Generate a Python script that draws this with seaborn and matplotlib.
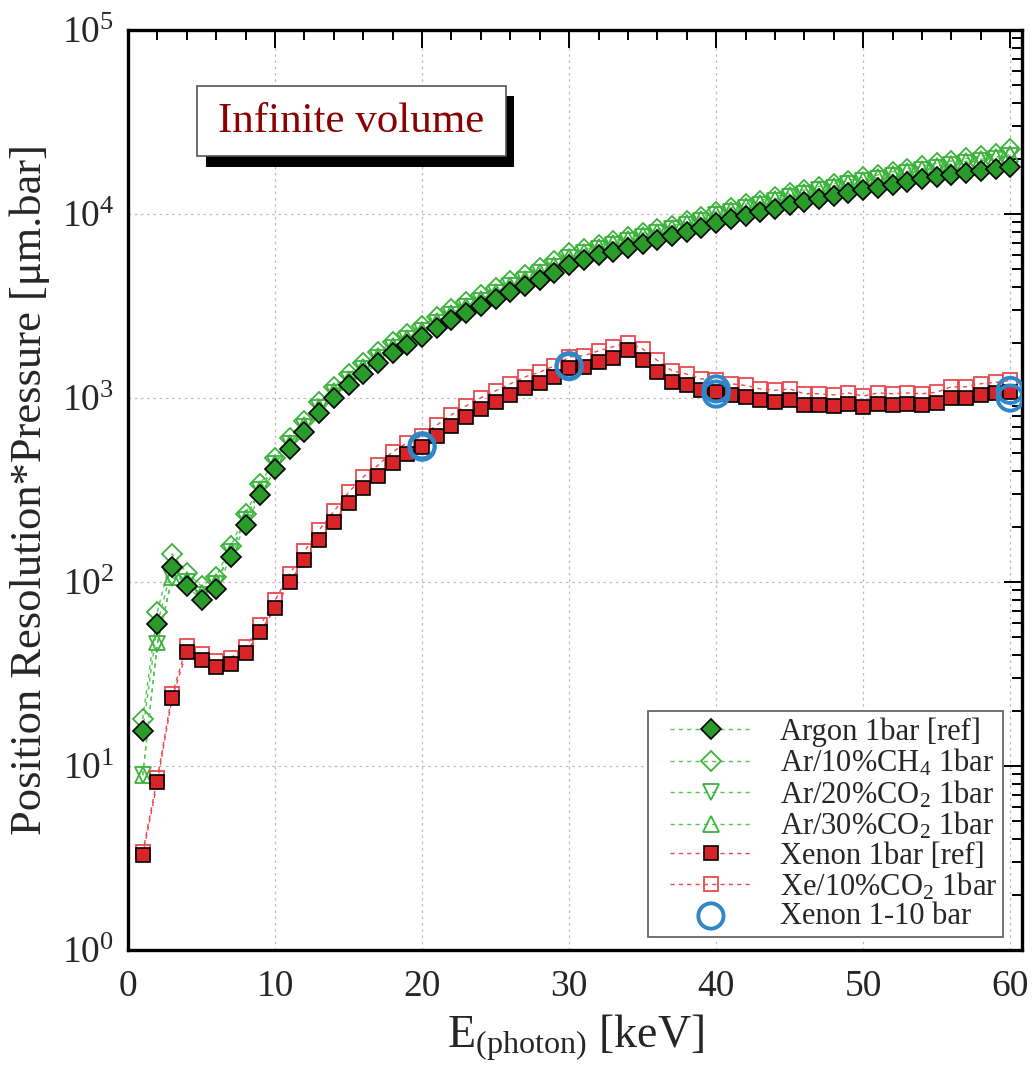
import numpy as np
import pandas as pd
import matplotlib
matplotlib.use("Agg")
import matplotlib.pyplot as plt
from matplotlib.patches import Rectangle
from matplotlib.lines import Line2D
from matplotlib.collections import PathCollection
from matplotlib.legend_handler import HandlerLine2D, HandlerPathCollection
from matplotlib.ticker import LogLocator, MultipleLocator, LogFormatterMathtext, NullFormatter
import seaborn as sns

# ---------------- data ----------------
energy = list(range(1, 61))

argon_ref = [15.5, 59, 121, 95, 80, 92, 137, 205, 297, 411,
             528, 653, 828, 1000, 1175, 1350, 1550, 1750, 1950, 2150,
             2400, 2650, 2900, 3150, 3450, 3750, 4050, 4400, 4800, 5300,
             5650, 5950, 6250, 6550, 6900, 7200, 7550, 7950, 8400, 8950,
             9350, 9800, 10200, 10700, 11200, 11600, 12100, 12500, 13000, 13500,
             13900, 14400, 14900, 15400, 15900, 16300, 16800, 17200, 17600, 18100]

ar_ch4 = [18, 69, 142, 112, 95, 107, 157, 235, 340, 470,
          605, 750, 950, 1150, 1350, 1550, 1780, 2010, 2240, 2470,
          2760, 3050, 3340, 3630, 3970, 4320, 4670, 5070, 5540, 6120,
          6420, 6760, 7120, 7480, 7880, 8240, 8650, 9120, 9650, 10300,
          10780, 11300, 11800, 12400, 13000, 13500, 14100, 14600, 15200, 15800,
          16300, 16950, 17600, 18200, 18850, 19400, 20050, 20600, 21200, 22500]

ar_co2_20 = [8.9, 46, 105, 100, 85, 98, 145, 218, 315, 437,
             560, 695, 880, 1065, 1250, 1440, 1655, 1870, 2085, 2300,
             2570, 2840, 3110, 3380, 3710, 4040, 4360, 4750, 5180, 5740,
             6120, 6450, 6790, 7130, 7520, 7860, 8260, 8710, 9210, 9820,
             10270, 10780, 11240, 11810, 12380, 12840, 13420, 13890, 14470, 15050,
             15510, 16100, 16690, 17280, 17880, 18370, 18970, 19470, 19960, 20700]

ar_co2_30 = [8.9, 47, 107, 102, 87, 100, 148, 222, 322, 446,
             571, 709, 898, 1086, 1275, 1469, 1688, 1907, 2127, 2346,
             2621, 2897, 3172, 3448, 3784, 4121, 4447, 4845, 5284, 5855,
             6242, 6579, 6926, 7273, 7670, 8017, 8425, 8884, 9394, 10016,
             10475, 10996, 11465, 12046, 12628, 13097, 13688, 14168, 14759, 15351,
             15820, 16422, 17024, 17626, 18238, 18737, 19349, 19859, 20359, 21100]

xenon_ref = [3.28, 8.2, 23.4, 41.8, 37.7, 34.7, 36, 41.1, 53.7, 72,
             100, 131, 170, 213, 269, 324, 375, 443, 497, 542,
             620, 705, 789, 872, 951, 1038, 1133, 1203, 1300, 1455,
             1477, 1570, 1650, 1820, 1610, 1390, 1222, 1175, 1105, 1082,
             1038, 1017, 975, 955, 975, 916, 916, 904, 927, 890,
             927, 916, 927, 916, 935, 1000, 1000, 1038, 1058, 1082]

xe_co2 = [3.4, 8.6, 24.5, 44.7, 40.5, 37.3, 38.7, 44.3, 58.5, 79.5,
          111, 147, 192, 242, 307, 373, 431, 510, 572, 623,
          713, 811, 907, 1003, 1094, 1194, 1303, 1383, 1495, 1673,
          1700, 1805, 1900, 2000, 1850, 1600, 1405, 1350, 1270, 1245,
          1195, 1170, 1120, 1100, 1120, 1055, 1055, 1040, 1065, 1025,
          1065, 1055, 1065, 1055, 1075, 1150, 1150, 1195, 1215, 1245]

xe_multi_energy = [20, 20, 30, 30, 40, 40, 60, 60]
xe_multi_value = [540, 550, 1480, 1500, 1120, 1050, 1100, 1000]

labels = ["Argon 1bar [ref]", r"Ar/10%CH$_4$ 1bar", r"Ar/20%CO$_2$ 1bar",
          r"Ar/30%CO$_2$ 1bar", "Xenon 1bar [ref]", r"Xe/10%CO$_2$ 1bar",
          "Xenon 1-10 bar"]

# ---------------- style ----------------
sns.set_theme(style="white")
plt.rcParams["font.family"] = ["Liberation Serif", "DejaVu Serif"]
plt.rcParams["mathtext.fontset"] = "custom"
plt.rcParams["mathtext.rm"] = "Liberation Serif"
plt.rcParams["mathtext.it"] = "Liberation Serif:italic"
plt.rcParams["mathtext.bf"] = "Liberation Serif:bold"

fig = plt.figure(figsize=(10.33, 10.69), dpi=100)
ax = fig.add_axes([128 / 1033, 119 / 1069, 894 / 1033, 920 / 1069])

GREEN_DARK = "#2a9a2a"
GREEN = "#3bb33b"
GREEN_LINE = "#55c455"
RED = "#d82428"
RED_LIGHT = "#e84a4e"
BLUE = "#2f86c8"
dash = (0, (3, 3))

df = pd.DataFrame({"E": energy, "argon": argon_ref, "ch4": ar_ch4,
                   "co2_20": ar_co2_20, "co2_30": ar_co2_30,
                   "xenon": xenon_ref, "xeco2": xe_co2})

common = dict(ax=ax, x="E", data=df, linewidth=1.0, linestyle=dash, estimator=None)

sns.lineplot(y="ch4", color=GREEN_LINE, marker="D", markersize=10,
             markerfacecolor="none", markeredgecolor=GREEN, markeredgewidth=1.3,
             label=labels[1], zorder=3, **common)
sns.lineplot(y="co2_20", color=GREEN_LINE, marker="v", markersize=11,
             markerfacecolor="none", markeredgecolor=GREEN, markeredgewidth=1.3,
             label=labels[2], zorder=3, **common)
sns.lineplot(y="co2_30", color=GREEN_LINE, marker="^", markersize=11,
             markerfacecolor="none", markeredgecolor=GREEN, markeredgewidth=1.3,
             label=labels[3], zorder=3, **common)
sns.lineplot(y="argon", color=GREEN_LINE, marker="D", markersize=10,
             markerfacecolor=GREEN_DARK, markeredgecolor="black", markeredgewidth=1.2,
             label=labels[0], zorder=4, **common)
sns.lineplot(y="xeco2", color=RED_LIGHT, marker="s", markersize=10,
             markerfacecolor="none", markeredgecolor=RED_LIGHT, markeredgewidth=1.3,
             label=labels[5], zorder=3, **common)
sns.lineplot(y="xenon", color=RED_LIGHT, marker="s", markersize=10,
             markerfacecolor=RED, markeredgecolor="black", markeredgewidth=1.2,
             label=labels[4], zorder=4, **common)
sns.scatterplot(x=xe_multi_energy, y=xe_multi_value, ax=ax, marker="o", s=330,
                facecolors="none", edgecolors=BLUE, linewidths=2.8,
                label=labels[6], zorder=5)

ax.set_yscale("log")
ax.set_xlim(0, 60.8)
ax.set_ylim(1, 1e5)

# ticks
ax.xaxis.set_major_locator(MultipleLocator(10))
ax.xaxis.set_minor_locator(MultipleLocator(2))
ax.yaxis.set_major_locator(LogLocator(base=10, numticks=10))
ax.yaxis.set_minor_locator(LogLocator(base=10, subs=np.arange(2, 10), numticks=100))
ax.yaxis.set_major_formatter(LogFormatterMathtext())
ax.yaxis.set_minor_formatter(NullFormatter())
ax.tick_params(which="both", direction="in", top=True, right=True,
               labelsize=27, width=1.4, color="black")
ax.tick_params(which="major", length=13)
ax.tick_params(axis="y", which="major", pad=10)
ax.tick_params(axis="x", which="major", pad=14)
ax.tick_params(which="minor", length=7)
for sp in ax.spines.values():
    sp.set_linewidth(2.4)
    sp.set_color("black")

ax.grid(True, which="major", linestyle=(0, (2, 3)), color="#bbbbbb", linewidth=0.9)
ax.set_axisbelow(True)

ax.set_xlabel(r"E$_{\rm (photon)}$ [keV]", fontsize=33, labelpad=6)
ax.set_ylabel("Position Resolution*Pressure [\u03bcm.bar]", fontsize=32)
ax.yaxis.set_label_coords(-0.087, 0.5)

# text box with shadow
ax.add_patch(Rectangle((0.0872, 0.8511), 0.3446, 0.0772, transform=ax.transAxes,
                       facecolor="black", edgecolor="none", zorder=6))
ax.add_patch(Rectangle((0.0772, 0.8630), 0.3456, 0.0761, transform=ax.transAxes,
                       facecolor="white", edgecolor="#555555", linewidth=1.2, zorder=7))
ax.text(0.250, 0.9005, "Infinite volume", transform=ax.transAxes, ha="center",
        va="center", fontsize=31, color="#8b0000", zorder=8)

# legend in reference order
hs, ls = ax.get_legend_handles_labels()
lookup = dict(zip(ls, hs))
leg = ax.legend([lookup[l] for l in labels], labels, loc="lower right",
                bbox_to_anchor=(0.979, 0.014), fontsize=22, frameon=True,
                fancybox=False, edgecolor="#666666", framealpha=1,
                handlelength=3.2, labelspacing=0.0, borderpad=0.2,
                handletextpad=0.9, borderaxespad=0,
                handler_map={Line2D: HandlerLine2D(xpad=0.5),
                             PathCollection: HandlerPathCollection(xpad=0.5)})
leg.get_frame().set_linewidth(1.3)
leg.set_zorder(10)

fig.savefig("out.png", dpi=100)
